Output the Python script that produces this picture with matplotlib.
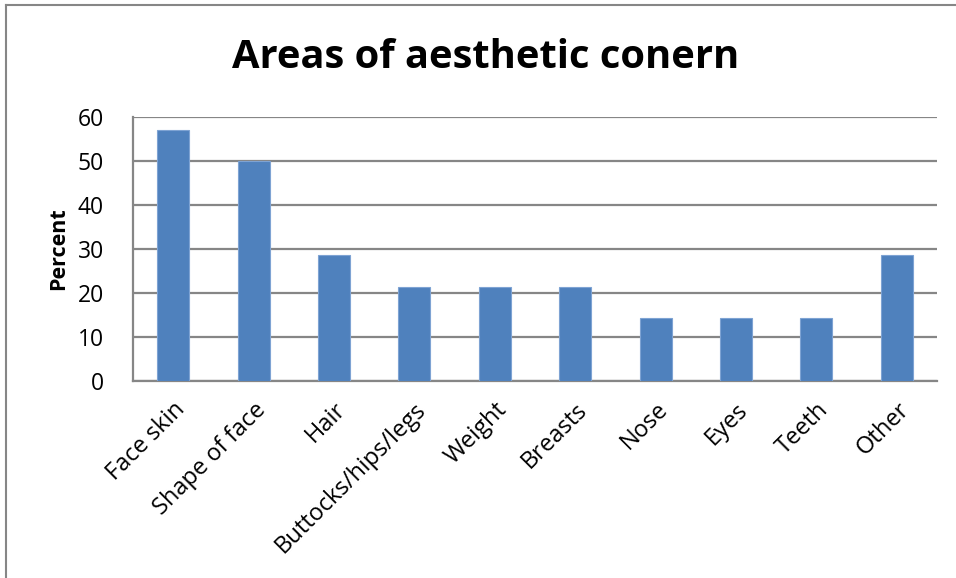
import matplotlib.pyplot as plt
from matplotlib.lines import Line2D

categories = ['Face skin', 'Shape of face', 'Hair', 'Buttocks/hips/legs', 'Weight',
              'Breasts', 'Nose', 'Eyes', 'Teeth', 'Other']
percent = [57.1, 50.0, 28.6, 21.4, 21.4, 21.4, 14.3, 14.3, 14.3, 28.6]
y_ticks = [0, 10, 20, 30, 40, 50, 60]

plt.rcParams['font.family'] = ['Open Sans', 'DejaVu Sans']

fig = plt.figure(figsize=(9.56, 5.78), dpi=100)
ax = fig.add_axes([133 / 956, 1 - 381 / 578, (937 - 133) / 956, (381 - 117) / 578])

x = range(len(categories))
ax.bar(x, percent, width=0.4, color='#4F81BD', edgecolor='#7EA3D3', linewidth=0.8, zorder=3)

ax.set_xlim(-0.5, len(categories) - 0.5)
ax.set_ylim(0, 60)
ax.set_yticks(y_ticks)
ax.set_yticklabels([str(t) for t in y_ticks], fontsize=16.5)
ax.set_xticks(list(x))
ax.set_xticklabels(categories, rotation=45, ha='right', rotation_mode='anchor', fontsize=17)
ax.tick_params(axis='both', length=0)
ax.tick_params(axis='y', pad=21)
ax.tick_params(axis='x', pad=12)

ax.grid(axis='y', color='#868686', linewidth=1.6, zorder=0)
for side in ['top', 'right']:
    ax.spines[side].set_visible(False)
for side in ['left', 'bottom']:
    ax.spines[side].set_color('#868686')
    ax.spines[side].set_linewidth(1.6)

ax.set_ylabel('Percent', fontsize=15.5, fontweight='bold', labelpad=6)

fig.text(486 / 956, 1 - 57 / 578, 'Areas of aesthetic conern', fontsize=28.7,
         fontweight='bold', ha='center', va='center')

# outer chart frame (left and top edges only)
fig.add_artist(Line2D([6 / 956, 6 / 956], [0, 1 - 5 / 578], transform=fig.transFigure,
                      color='#868686', linewidth=1.5))
fig.add_artist(Line2D([6 / 956, 1], [1 - 5 / 578, 1 - 5 / 578], transform=fig.transFigure,
                      color='#868686', linewidth=1.5))

fig.savefig('out.png', dpi=100)
